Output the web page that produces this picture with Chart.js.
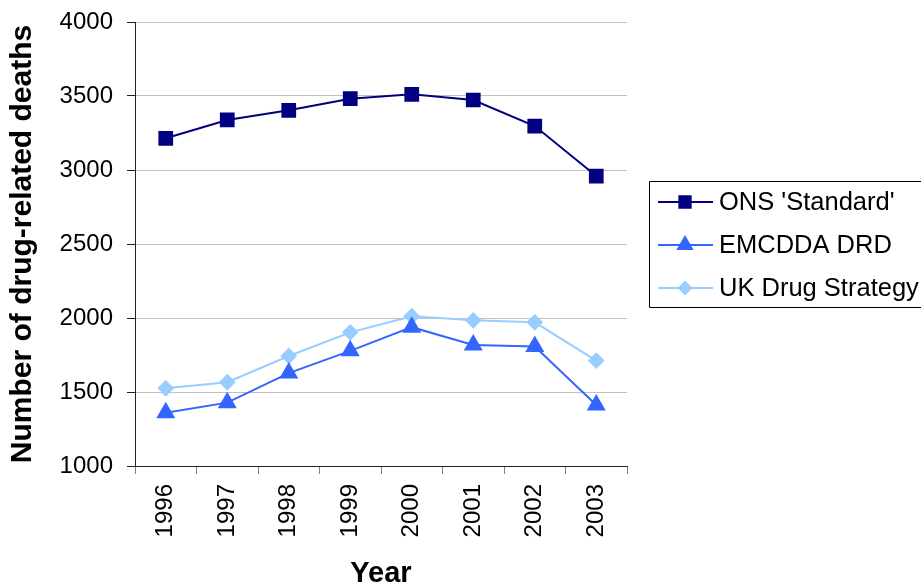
<!DOCTYPE html>
<html>
<head>
<meta charset="utf-8">
<script src="https://cdn.jsdelivr.net/npm/chart.js@4/dist/chart.umd.min.js"></script>
<style>
  html, body { margin: 0; padding: 0; background: #fff; }
  #wrap { width: 921px; height: 586px; }
</style>
</head>
<body>
<div id="wrap"><canvas id="myChart" width="921" height="586"></canvas></div>
<script>
const years = ['1996', '1997', '1998', '1999', '2000', '2001', '2002', '2003']
const onsStandard = [3214, 3338, 3403, 3482, 3511, 3473, 3297, 2959]
const emcddaDrd = [1360, 1428, 1628, 1778, 1938, 1818, 1808, 1412]
const ukDrugStrategy = [1525, 1566, 1743, 1903, 2012, 1984, 1971, 1712]
const yTicks = [1000, 1500, 2000, 2500, 3000, 3500, 4000]

const FONT = 'Liberation Sans, Arial, sans-serif'

// legend drawn by hand so it gets the framed box like the original
const boxedLegend = {
    id: 'boxedLegend',
    afterDraw(chart) {
        const {ctx} = chart
        const left = 649, top = 181, bottom = 307
        ctx.save()
        ctx.strokeStyle = '#000'
        ctx.lineWidth = 1
        ctx.beginPath()
        ctx.moveTo(930, top + 0.5)
        ctx.lineTo(left + 0.5, top + 0.5)
        ctx.lineTo(left + 0.5, bottom + 0.5)
        ctx.lineTo(930, bottom + 0.5)
        ctx.stroke()
        ctx.font = '25.5px ' + FONT
        ctx.textBaseline = 'middle'
        chart.data.datasets.forEach((ds, i) => {
            const y = 202 + i * 43
            ctx.strokeStyle = ds.borderColor
            ctx.lineWidth = 2
            ctx.beginPath()
            ctx.moveTo(658, y)
            ctx.lineTo(713, y)
            ctx.stroke()
            ctx.fillStyle = ds.pointBackgroundColor
            ctx.strokeStyle = ds.pointBackgroundColor
            Chart.helpers.drawPoint(ctx, {
                pointStyle: ds.pointStyle,
                radius: ds.pointRadius - 1,
                borderWidth: 1
            }, 685, y)
            ctx.fillStyle = '#000'
            ctx.fillText(ds.label, 719, y + 1)
        })
        ctx.restore()
    }
}

const data = {
    labels: years,
    datasets: [{
        label: "ONS 'Standard'",
        data: onsStandard,
        borderColor: '#000080',
        backgroundColor: '#000080',
        pointBackgroundColor: '#000080',
        pointBorderColor: '#000080',
        pointStyle: 'rect',
        pointRadius: 9,
        borderWidth: 2
    }, {
        label: 'EMCDDA DRD',
        data: emcddaDrd,
        borderColor: '#3366ff',
        backgroundColor: '#3366ff',
        pointBackgroundColor: '#3366ff',
        pointBorderColor: '#3366ff',
        pointStyle: 'triangle',
        pointRadius: 9,
        borderWidth: 2
    }, {
        label: 'UK Drug Strategy',
        data: ukDrugStrategy,
        borderColor: '#99ccff',
        backgroundColor: '#99ccff',
        pointBackgroundColor: '#99ccff',
        pointBorderColor: '#99ccff',
        pointStyle: 'rectRot',
        pointRadius: 7,
        borderWidth: 2
    }]
}

const config = {
    type: 'line',
    data: data,
    plugins: [boxedLegend],
    options: {
        responsive: false,
        animation: false,
        layout: { padding: { left: 0, right: 294, top: 22, bottom: 0 } },
        elements: { line: { tension: 0 } },
        plugins: {
            legend: { display: false },
            tooltip: { enabled: false }
        },
        scales: {
            x: {
                offset: true,
                grid: {
                    offset: true,
                    drawOnChartArea: false,
                    color: '#808080',
                    tickLength: 8
                },
                border: { color: '#222', width: 1 },
                ticks: {
                    color: '#000',
                    font: { family: FONT, size: 24 },
                    minRotation: 90,
                    maxRotation: 90,
                    padding: 10
                },
                title: {
                    display: true,
                    text: 'Year',
                    color: '#000',
                    font: { family: FONT, size: 29, weight: 'bold', lineHeight: 0.8 },
                    padding: { top: 0, bottom: 0 }
                },
                afterFit: s => { s.height = 120 }
            },
            y: {
                min: 1000,
                max: 4000,
                afterBuildTicks: s => { s.ticks = yTicks.map(v => ({ value: v })) },
                grid: {
                    color: '#c0c0c0',
                    tickColor: '#222',
                    tickLength: 8
                },
                border: { color: '#222', width: 1 },
                ticks: {
                    color: '#000',
                    font: { family: FONT, size: 24 },
                    padding: 14,
                    callback: v => String(v)
                },
                title: {
                    display: true,
                    text: 'Number of drug-related deaths',
                    color: '#000',
                    font: { family: FONT, size: 30, weight: 'bold' },
                    padding: { top: 5, bottom: 0 }
                },
                afterFit: s => {
                    s.width = 135
                    s.paddingTop = 0
                    s.paddingBottom = 0
                }
            }
        }
    }
}

const myChart = new Chart(document.querySelector('#myChart').getContext('2d'), config)
</script>
</body>
</html>
